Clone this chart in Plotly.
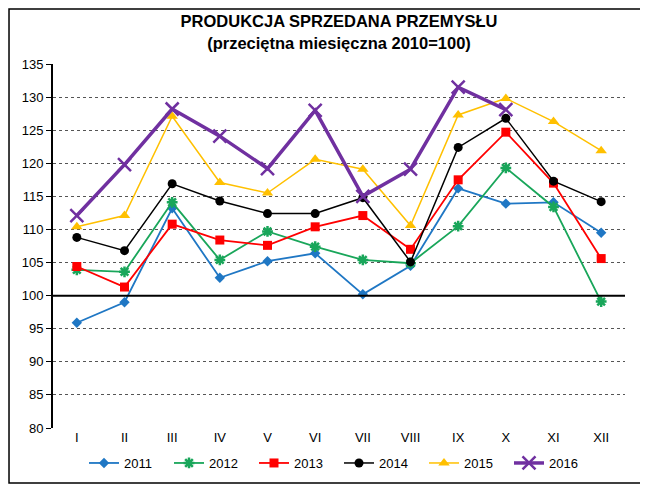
import plotly.graph_objects as go

# miesiące
months = ["I", "II", "III", "IV", "V", "VI", "VII", "VIII", "IX", "X", "XI", "XII"]

# wartości (przeciętna miesięczna 2010=100)
y2011 = [95.9, 99.0, 113.2, 102.7, 105.2, 106.4, 100.2, 104.5, 116.2, 113.9, 114.1, 109.5]
y2012 = [103.9, 103.6, 114.1, 105.4, 109.7, 107.4, 105.4, 104.9, 110.5, 119.3, 113.4, 99.1]
y2013 = [104.4, 101.3, 110.8, 108.4, 107.6, 110.4, 112.1, 107.0, 117.5, 124.7, 117.0, 105.6]
y2014 = [108.8, 106.8, 116.9, 114.3, 112.4, 112.4, 114.8, 105.1, 122.4, 126.8, 117.3, 114.2]
y2015 = [110.4, 112.1, 127.1, 117.1, 115.5, 120.6, 119.1, 110.6, 127.3, 129.8, 126.3, 121.9]
y2016 = [112.1, 119.8, 128.2, 124.1, 119.2, 128.0, 115.0, 119.1, 131.5, 128.1]

series = [
    ("2011", y2011, "#1f77c4", "diamond", 8, 1.8),
    ("2012", y2012, "#19a65a", "asterisk-open", 9, 1.8),
    ("2013", y2013, "#ff0000", "square", 9, 1.8),
    ("2014", y2014, "#000000", "circle", 9, 1.5),
    ("2015", y2015, "#ffc000", "triangle-up", 10, 1.5),
    ("2016", y2016, "#7030a0", "x-thin-open", 13, 3.5),
]

fig = go.Figure()
for name, vals, col, sym, sz, lw in series:
    fig.add_trace(go.Scatter(
        x=months[:len(vals)], y=vals, name=name, mode="lines+markers",
        line=dict(color=col, width=lw),
        marker=dict(symbol=sym, size=sz, color=col,
                    line=dict(color=col, width=2.5 if "open" in sym else 0)),
    ))

# linia 100
fig.add_hline(y=100, line=dict(color="black", width=2), layer="above")

# strona ma 8px marginesu, więc figura jest o 8px mniejsza
fig.update_layout(
    width=640, height=477,
    margin=dict(l=45, r=23, t=56, b=57, autoexpand=False),
    paper_bgcolor="white", plot_bgcolor="white",
    font=dict(family="Liberation Sans, Arial, sans-serif", size=13, color="black"),
    title=dict(
        text="<b>PRODUKCJA SPRZEDANA PRZEMYSŁU<br>(przeciętna miesięczna 2010=100)</b>",
        x=0.5, xref="paper", xanchor="center", y=0.96, yanchor="top",
        font=dict(size=16.5, color="black"),
    ),
    showlegend=True,
    legend=dict(orientation="h", x=0.5, xanchor="center", y=-0.055, yanchor="top",
                font=dict(size=13), entrywidth=40, itemwidth=30,
                traceorder="normal"),
    shapes=[
        dict(type="rect", xref="paper", yref="paper", x0=0, x1=1, y0=0, y1=1,
             line=dict(color="#9a9a9a", width=1.5), layer="below"),
        dict(type="rect", xref="paper", yref="paper", x0=-0.0769, x1=1.0367,
             y0=-0.151, y1=1.151, line=dict(color="black", width=1.5)),
    ],
)

fig.update_xaxes(
    type="category", range=[-0.5, 11.5], showgrid=False, ticks="",
    showline=False, tickfont=dict(size=13), fixedrange=True,
)
fig.update_yaxes(
    range=[80, 135], dtick=5, showgrid=True, gridcolor="#555555", griddash="dot",
    gridwidth=1, showline=True, linecolor="black", linewidth=2,
    ticks="outside", ticklen=5, tickcolor="black", tickfont=dict(size=13),
    zeroline=False, fixedrange=True,
)

fig.write_html("out.html")
